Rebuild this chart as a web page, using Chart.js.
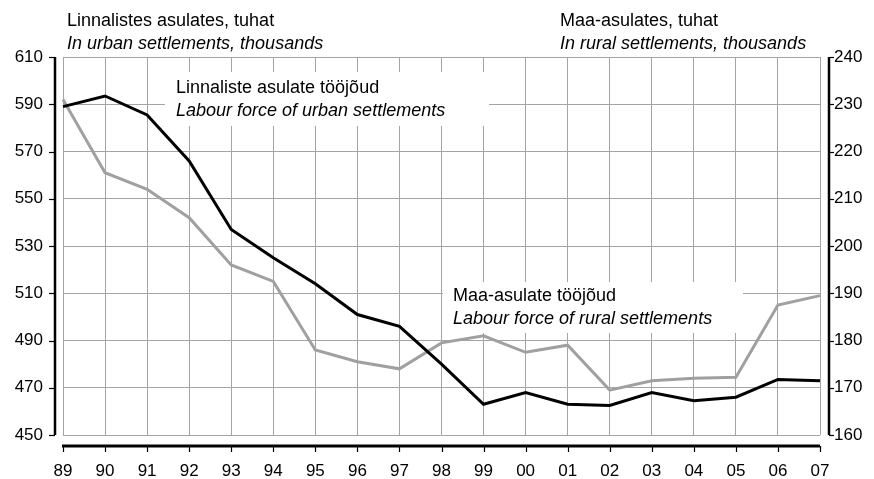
<!DOCTYPE html>
<html>
<head>
<meta charset="utf-8">
<script src="https://cdn.jsdelivr.net/npm/chart.js@4.4.0/dist/chart.umd.min.js"></script>
<style>
    html, body { margin: 0; padding: 0; background: #fff; }
    #wrap { width: 874px; height: 479px; position: relative; }
</style>
</head>
<body>
<div id="wrap"><canvas id="chart"></canvas></div>
<script>
const years = ['89', '90', '91', '92', '93', '94', '95', '96', '97', '98',
    '99', '00', '01', '02', '03', '04', '05', '06', '07'];
// linnalised asulad, tuhat (vasak telg)
const urban = [589, 593.5, 585.5, 566, 537, 525, 514, 501, 496, 480,
    463, 468, 463, 462.5, 468, 464.5, 466, 473.5, 473];
// maa-asulad, tuhat (parem telg)
const rural = [231, 215.5, 212, 206, 196, 192.5, 178, 175.5, 174, 179.5,
    181, 177.5, 179, 169.5, 171.5, 172, 172.2, 187.5, 189.5];

const leftTitle = ['Linnalistes asulates, tuhat', 'In urban settlements, thousands'];
const rightTitle = ['Maa-asulates, tuhat', 'In rural settlements, thousands'];
const urbanLabel = ['Linnaliste asulate tööjõud', 'Labour force of urban settlements'];
const ruralLabel = ['Maa-asulate tööjõud', 'Labour force of rural settlements'];

const FONT = '"Liberation Sans", Arial, sans-serif';
const GRID = '#a4a4a4';

function drawTwoLines(ctx, lines, x, y) {
    ctx.fillStyle = '#000';
    ctx.textBaseline = 'middle';
    ctx.textAlign = 'left';
    ctx.font = `18px ${FONT}`;
    ctx.fillText(lines[0], x, y);
    ctx.font = `italic 18px ${FONT}`;
    ctx.fillText(lines[1], x, y + 23);
}

const decor = {
    id: 'decor',
    beforeDatasetsDraw(chart) {
        const ctx = chart.ctx;
        ctx.save();
        // valged kastid siltide all
        ctx.fillStyle = '#fff';
        ctx.fillRect(165, 72, 324, 54);
        ctx.fillRect(443, 282, 300, 51);
        drawTwoLines(ctx, urbanLabel, 176, 88);
        drawTwoLines(ctx, ruralLabel, 453, 296);
        ctx.restore();
    },
    afterDraw(chart) {
        const ctx = chart.ctx;
        const area = chart.chartArea;
        const yl = chart.scales.y;
        const yr = chart.scales.y1;
        const x = chart.scales.x;
        ctx.save();
        ctx.strokeStyle = '#000';

        // vasak telg
        ctx.lineWidth = 2.5;
        ctx.beginPath();
        ctx.moveTo(area.left - 8, area.top);
        ctx.lineTo(area.left - 8, area.bottom);
        ctx.stroke();
        ctx.lineWidth = 1.2;
        yl.ticks.forEach(t => {
            const py = Math.round(yl.getPixelForValue(t.value)) + 0.5;
            ctx.beginPath();
            ctx.moveTo(area.left - 14, py);
            ctx.lineTo(area.left - 8, py);
            ctx.stroke();
        });

        // parem telg
        ctx.lineWidth = 2.5;
        ctx.beginPath();
        ctx.moveTo(area.right + 9, area.top);
        ctx.lineTo(area.right + 9, area.bottom);
        ctx.stroke();
        ctx.lineWidth = 1.2;
        yr.ticks.forEach(t => {
            const py = Math.round(yr.getPixelForValue(t.value)) + 0.5;
            ctx.beginPath();
            ctx.moveTo(area.right + 9, py);
            ctx.lineTo(area.right + 14, py);
            ctx.stroke();
        });

        // x-telg
        ctx.lineWidth = 3;
        ctx.beginPath();
        ctx.moveTo(area.left - 1, area.bottom + 11);
        ctx.lineTo(area.right, area.bottom + 11);
        ctx.stroke();
        ctx.lineWidth = 1.2;
        years.forEach((_, i) => {
            const px = Math.round(x.getPixelForTick(i)) + 0.5;
            ctx.beginPath();
            ctx.moveTo(px, area.bottom + 11);
            ctx.lineTo(px, area.bottom + 17);
            ctx.stroke();
        });

        drawTwoLines(ctx, leftTitle, 67, 21);
        drawTwoLines(ctx, rightTitle, 560, 21);
        ctx.restore();
    }
};

const tickFont = { family: FONT, size: 17 };

new Chart(document.getElementById('chart'), {
    type: 'line',
    data: {
        labels: years,
        datasets: [
            {
                label: 'Linnaliste asulate tööjõud',
                data: urban,
                yAxisID: 'y',
                borderColor: '#000',
                borderWidth: 3,
                pointRadius: 0,
                tension: 0
            },
            {
                label: 'Maa-asulate tööjõud',
                data: rural,
                yAxisID: 'y1',
                borderColor: '#a0a0a0',
                borderWidth: 3,
                pointRadius: 0,
                tension: 0
            }
        ]
    },
    options: {
        responsive: true,
        maintainAspectRatio: false,
        animation: false,
        layout: { padding: { top: 57, left: 0, right: 0, bottom: 0 } },
        plugins: { legend: { display: false }, tooltip: { enabled: false } },
        scales: {
            x: {
                offset: false,
                grid: { color: GRID, lineWidth: 1, drawTicks: false },
                border: { display: false },
                ticks: { color: '#000', font: tickFont, padding: 26, maxRotation: 0, autoSkip: false },
                afterFit: s => { s.height = 44; }
            },
            y: {
                position: 'left',
                min: 450, max: 610,
                ticks: { stepSize: 20, color: '#000', font: tickFont, padding: 20 },
                grid: { color: GRID, lineWidth: 1, drawTicks: false },
                border: { display: false },
                afterFit: s => { s.width = 63; }
            },
            y1: {
                position: 'right',
                min: 160, max: 240,
                ticks: { stepSize: 10, color: '#000', font: tickFont, padding: 14 },
                grid: { drawOnChartArea: false, drawTicks: false },
                border: { display: false },
                afterFit: s => { s.width = 54; }
            }
        }
    },
    plugins: [decor]
});
</script>
</body>
</html>
